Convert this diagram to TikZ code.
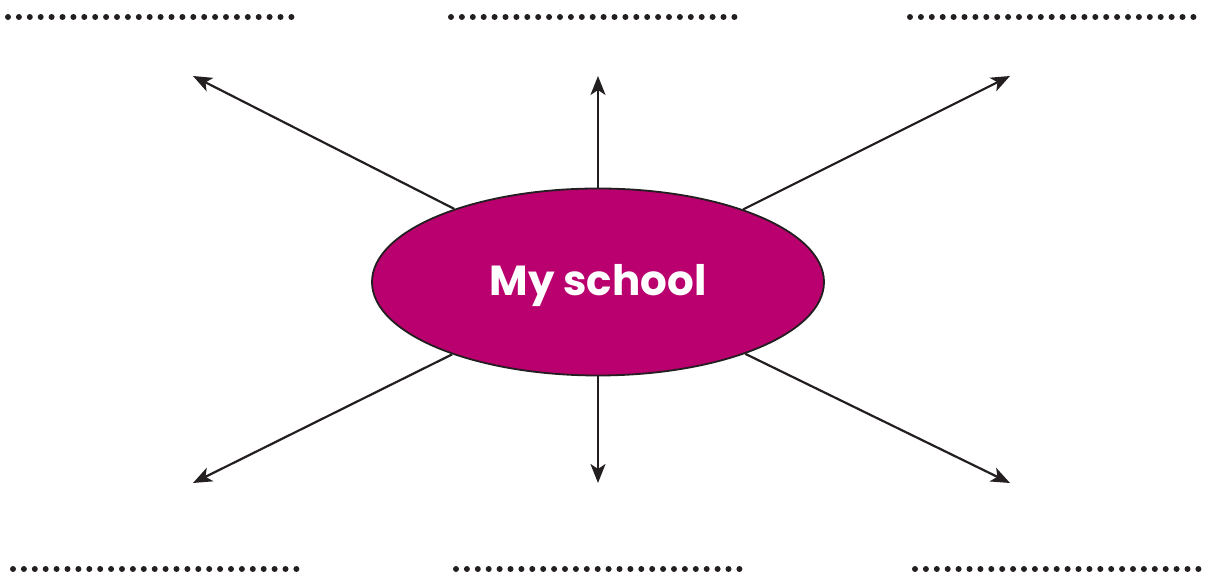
\documentclass[tikz,border=0pt]{standalone}
\usepackage{fontspec}
\newfontfamily\lblfont{Poppins}
\usetikzlibrary{arrows.meta,shapes.geometric}
\definecolor{inkc}{HTML}{231F20}
\definecolor{magc}{HTML}{B9006E}
\tikzset{
  bubble/.style={ellipse, draw=inkc, line width=0.9pt, fill=magc, minimum width=226pt, minimum height=93.5pt, inner sep=0pt,
    text=white, font=\lblfont\bfseries\fontsize{21}{25}\selectfont},
  ray/.style={draw=inkc, line width=1.1pt, -{Stealth[length=9.5pt,width=7.5pt,inset=2.5pt]}},
  blank/.style={draw=inkc, line width=3pt, line cap=round, dash pattern=on 0pt off 5.45pt}
}
\begin{document}
\begin{tikzpicture}[x=0.5pt,y=-0.5pt]
\useasboundingbox (0,0) rectangle (1205,581);
\node[bubble] (e) at (598,282) {\raisebox{-7pt}[0pt][0pt]{My school}};
\coordinate (tl) at (193,76);
\coordinate (tc) at (598,76);
\coordinate (tr) at (1010,76);
\coordinate (bl) at (193,483);
\coordinate (bc) at (598,483);
\coordinate (br) at (1010,483);
\draw[ray] (e) -- (tl);
\draw[ray] (e.north) -- (tc);
\draw[ray] (e) -- (tr);
\draw[ray] (e) -- (bl);
\draw[ray] (e.south) -- (bc);
\draw[ray] (e) -- (br);
\draw[blank] (8,17) -- (293,17);
\draw[blank] (451,17) -- (736,17);
\draw[blank] (910,17) -- (1195,17);
\draw[blank] (13,569) -- (298,569);
\draw[blank] (456,569) -- (741,569);
\draw[blank] (915,569) -- (1200,569);
\end{tikzpicture}
\end{document}
